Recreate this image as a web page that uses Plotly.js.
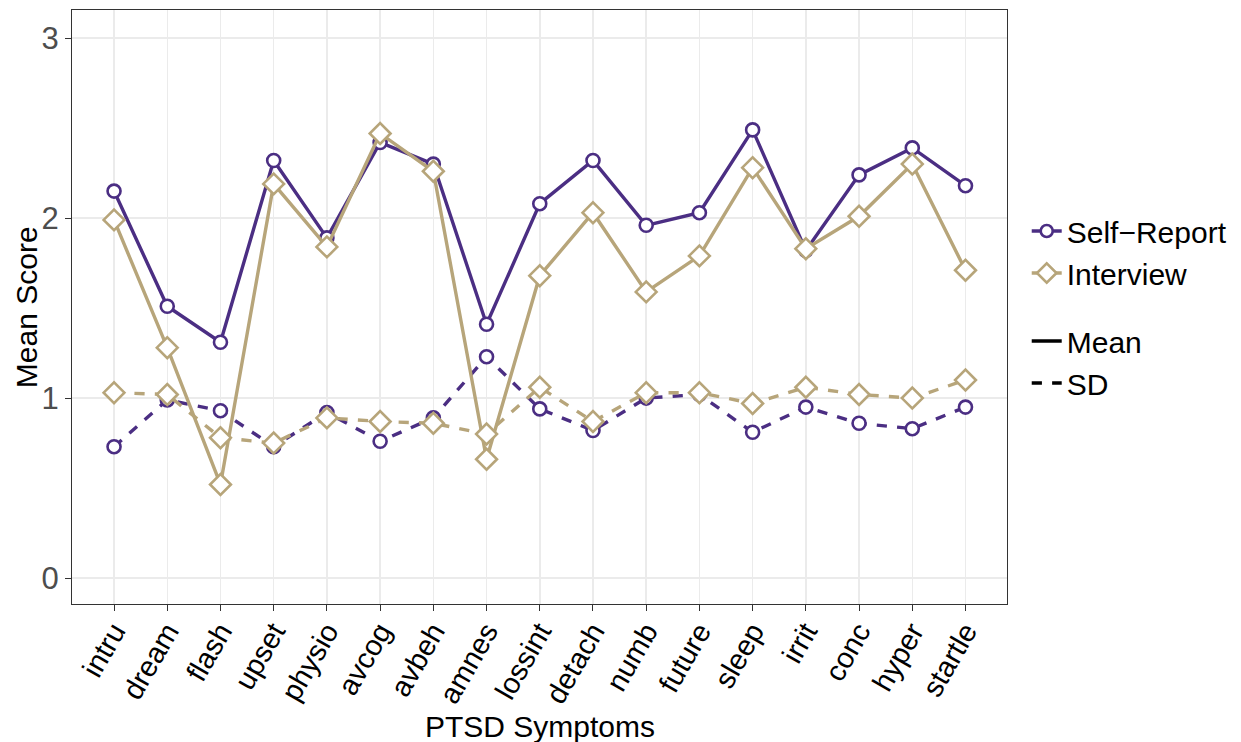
<!DOCTYPE html>
<html>
<head>
<meta charset="utf-8">
<script src="https://cdn.plot.ly/plotly-3.0.1.min.js"></script>
<style>html,body{margin:0;padding:0;background:#fff;}#chart{width:1241px;height:742px;}</style>
</head>
<body>
<div id="chart"></div>
<script>
const symptoms = ["intru","dream","flash","upset","physio","avcog","avbeh","amnes","lossint","detach","numb","future","sleep","irrit","conc","hyper","startle"];
const selfMean = [2.15,1.51,1.31,2.32,1.89,2.42,2.30,1.41,2.08,2.32,1.96,2.03,2.49,1.82,2.24,2.39,2.18];
const selfSD   = [0.73,0.99,0.93,0.73,0.92,0.76,0.89,1.23,0.94,0.82,1.00,1.02,0.81,0.95,0.86,0.83,0.95];
const intMean  = [1.99,1.28,0.52,2.19,1.84,2.47,2.26,0.66,1.68,2.03,1.59,1.79,2.28,1.83,2.01,2.30,1.71];
const intSD    = [1.03,1.02,0.78,0.75,0.89,0.87,0.86,0.80,1.06,0.87,1.03,1.03,0.97,1.06,1.02,1.00,1.10];
const yTicks = [0,1,2,3];

const purple = "#4B2E83";
const gold = "#B7A57A";
const idx = symptoms.map((s,i)=>i);

function tr(y, color, symbol, size, dash) {
  return {
    x: idx, y: y, type: "scatter", mode: "lines+markers", showlegend: false,
    line: {color: color, width: 3.4, dash: dash},
    marker: {symbol: symbol, size: size, color: "#ffffff", line: {color: color, width: 2.6}},
    hoverinfo: "skip"
  };
}
function leg(name, group, color, symbol, size, dash, withMarker) {
  return {
    x: [null], y: [null], type: "scatter", mode: withMarker ? "lines+markers" : "lines",
    name: name, legendgroup: group, showlegend: true,
    line: {color: color, width: 3.4, dash: dash},
    marker: {symbol: symbol, size: size, color: "#ffffff", line: {color: color, width: 2.6}}
  };
}

const data = [
  tr(selfMean, purple, "circle", 13, "solid"),
  tr(selfSD, purple, "circle", 13, "dash"),
  tr(intMean, gold, "diamond", 16, "solid"),
  tr(intSD, gold, "diamond", 16, "dash"),
  leg("Self\u2212Report", "g1", purple, "circle", 12, "solid", true),
  leg("Interview", "g1", gold, "diamond", 15, "solid", true),
  leg("Mean", "g2", "#000000", "circle", 1, "solid", false),
  leg("SD", "g2", "#000000", "circle", 1, "dash", false)
];

const layout = {
  width: 1241, height: 742,
  margin: {l: 72, r: 233, t: 10, b: 138},
  paper_bgcolor: "#ffffff", plot_bgcolor: "#ffffff",
  font: {family: "Liberation Sans, Arial, sans-serif", color: "#000000"},
  xaxis: {
    range: [-0.79, 16.78],
    tickmode: "array", tickvals: idx, ticktext: symptoms,
    tickangle: -60, tickfont: {size: 29, color: "#000000"},
    ticks: "outside", ticklen: 6, tickcolor: "#333333", tickwidth: 1,
    ticklabelstandoff: -8,
    showgrid: true, gridcolor: "#EBEBEB", gridwidth: 1.5,
    showline: true, mirror: true, linecolor: "#333333", linewidth: 1,
    zeroline: false
  },
  yaxis: {
    range: [-0.144, 3.156],
    tickmode: "array", tickvals: yTicks, ticktext: yTicks.map(String),
    tickfont: {size: 31, color: "#4D4D4D"},
    ticks: "outside", ticklen: 6, tickcolor: "#333333", tickwidth: 1,
    showgrid: true, gridcolor: "#EBEBEB", gridwidth: 1.5,
    showline: true, mirror: true, linecolor: "#333333", linewidth: 1,
    zeroline: false
  },
  annotations: [
    {text: "PTSD Symptoms", xref: "paper", yref: "paper", x: 0.5, y: -0.207,
     xanchor: "center", yanchor: "middle", showarrow: false, font: {size: 30, color: "#000000"}},
    {text: "Mean Score", xref: "paper", yref: "paper", x: -0.049, y: 0.5, textangle: -90,
     xanchor: "center", yanchor: "middle", showarrow: false, font: {size: 30, color: "#000000"}}
  ],
  showlegend: true,
  legend: {
    x: 1.02, xanchor: "left", y: 0.5, yanchor: "middle",
    traceorder: "grouped", tracegroupgap: 26,
    font: {size: 30, color: "#000000"},
    itemwidth: 30, bgcolor: "rgba(0,0,0,0)"
  }
};

Plotly.newPlot("chart", data, layout, {displayModeBar: false, staticPlot: true});
</script>
</body>
</html>
